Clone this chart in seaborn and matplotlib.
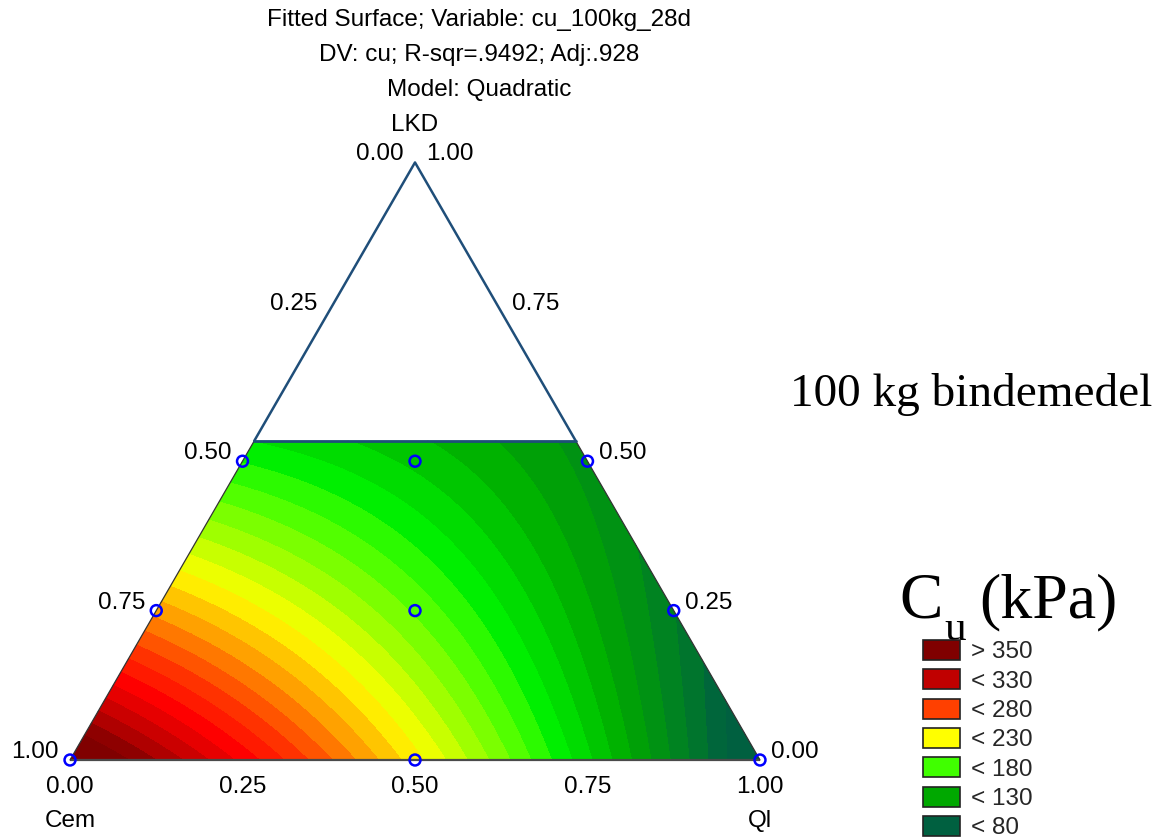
import numpy as np
import matplotlib
matplotlib.use("Agg")
import matplotlib.pyplot as plt
import seaborn as sns
from matplotlib.colors import LinearSegmentedColormap, Normalize
from matplotlib.patches import Polygon, Patch

sns.set_theme(style="white")
plt.rcParams["font.family"] = ["Liberation Sans", "DejaVu Sans"]

# Mixture design: proportions of Cem, LKD and Ql, with measured cu (kPa) after 28 d
cem = [1.0, 0.75, 0.5, 0.5, 0.375, 0.25, 0.0, 0.0, 0.0]
lkd = [0.0, 0.25, 0.5, 0.0, 0.25, 0.5, 0.0, 0.25, 0.5]
ql = [0.0, 0.0, 0.0, 0.5, 0.375, 0.25, 1.0, 0.75, 0.5]
cu = [368, 260, 170, 238, 182, 143, 60, 102, 119]

# colour scale of the fitted surface (legend entries)
legend_labels = ["> 350", "< 330", "< 280", "< 230", "< 180", "< 130", "< 80"]
legend_colors = ["#800000", "#c00000", "#ff4000", "#ffff00", "#40ff00", "#00a800", "#006040"]
legend_values = [350, 330, 280, 230, 180, 130, 80]
# intermediate shades of the continuous scale
extra_values = [305, 165]
extra_colors = ["#ff0000", "#00f000"]
contour_step = 10

tick_values = [0.0, 0.25, 0.5, 0.75, 1.0]
tick_labels = ["0.00", "0.25", "0.50", "0.75", "1.00"]

lkd_max = 0.534  # upper LKD limit of the fitted region

title_lines = ["Fitted Surface; Variable: cu_100kg_28d",
               "DV: cu; R-sqr=.9492; Adj:.928",
               "Model: Quadratic"]

H = np.sqrt(3) / 2


def to_xy(c, l, q):
    c, l, q = np.asarray(c, float), np.asarray(l, float), np.asarray(q, float)
    return q + l / 2, l * H


# Scheffe quadratic mixture model fitted by least squares
C, L, Q = np.array(cem), np.array(lkd), np.array(ql)
A = np.column_stack([C, L, Q, C * L, C * Q, L * Q])
coef, *_ = np.linalg.lstsq(A, np.array(cu, float), rcond=None)


def model(c, l, q):
    return (coef[0] * c + coef[1] * l + coef[2] * q
            + coef[3] * c * l + coef[4] * c * q + coef[5] * l * q)


W, Hpx = 1174, 839
fig = plt.figure(figsize=(W / 100, Hpx / 100), dpi=100)
ax = fig.add_axes([0, 0, 1, 1])
scale = 690.0
ax.set_xlim(-70 / scale, (W - 70) / scale)
ax.set_ylim(-(Hpx - 760) / scale, 760 / scale)
ax.axis("off")

# surface grid
xs = np.linspace(0, 1, 700)
ys = np.linspace(0, lkd_max * H, 400)
X, Y = np.meshgrid(xs, ys)
Lg = Y / H
Qg = X - Lg / 2
Cg = 1 - Qg - Lg
Z = model(Cg, Lg, Qg)

lo, hi = min(legend_values), max(legend_values)
stops = sorted(zip(legend_values + extra_values, legend_colors + extra_colors))
cmap = LinearSegmentedColormap.from_list(
    "cu", [((v - lo) / (hi - lo), col) for v, col in stops])
norm = Normalize(vmin=lo, vmax=hi)
levels = np.arange(30, 420, contour_step)

cf = ax.contourf(X, Y, Z, levels=levels, cmap=cmap, norm=norm)
cf.set_edgecolor("face")
cf.set_linewidth(0.4)

xl, yt = to_xy(1 - lkd_max, lkd_max, 0)
xr, _ = to_xy(0, lkd_max, 1 - lkd_max)
region = Polygon([(0, 0), (1, 0), (xr, yt), (xl, yt)], closed=True,
                 facecolor="none", edgecolor="none")
ax.add_patch(region)
cf.set_clip_path(region)

# triangle outline
ax.plot([0, 1], [0, 0], color="#4a4a4a", lw=1.6, solid_capstyle="butt")
ax.plot([0, xl], [0, yt], color="#333333", lw=0.9)
ax.plot([1, xr], [0, yt], color="#333333", lw=0.9)
ax.plot([xl, 0.5, xr], [yt, H, yt], color="#1f4e79", lw=1.8)
ax.plot([xl, xr], [yt, yt], color="#1f4e79", lw=2.0)

# design points
px, py = to_xy(cem, lkd, ql)
sns.scatterplot(x=px, y=py, ax=ax, marker="o", s=62, color="#0000ff",
                linewidth=1.8, legend=False, clip_on=False, zorder=5)
ax.collections[-1].set_facecolor("none")
ax.collections[-1].set_edgecolor("#0000ff")

fs = 17.5
pt = 0.72  # points per pixel
for v, lab in zip(tick_values, tick_labels):
    # Cem scale, left side
    x, y = to_xy(v, 1 - v, 0)
    ax.annotate(lab, (x, y), xytext=(-11 * pt, 8 * pt), textcoords="offset points",
                ha="right", va="center", fontsize=fs, color="black")
    # LKD scale, right side
    x, y = to_xy(0, v, 1 - v)
    ax.annotate(lab, (x, y), xytext=(11 * pt, 8 * pt), textcoords="offset points",
                ha="left", va="center", fontsize=fs, color="black")
    # Ql scale, bottom
    x, y = to_xy(1 - v, 0, v)
    ax.annotate(lab, (x, y), xytext=(0, -27 * pt), textcoords="offset points",
                ha="center", va="center", fontsize=fs, color="black")

ax.annotate("Cem", (0, 0), xytext=(0, -61 * pt), textcoords="offset points",
            ha="center", va="center", fontsize=fs, color="black")
ax.annotate("Ql", (1, 0), xytext=(0, -61 * pt), textcoords="offset points",
            ha="center", va="center", fontsize=fs, color="black")
ax.annotate("LKD", (0.5, H), xytext=(0, 37 * pt), textcoords="offset points",
            ha="center", va="center", fontsize=fs, color="black")

for i, line in enumerate(title_lines):
    fig.text(479 / W, 1 - (20 + 35 * i) / Hpx, line, ha="center", va="center",
             fontsize=fs, color="black")

serif = ["Liberation Serif", "DejaVu Serif"]
fig.text(790 / W, 1 - 395 / Hpx, "100 kg bindemedel", ha="left", va="center",
         fontsize=34, family=serif, color="black")
fig.text(899 / W, 1 - 617 / Hpx, "C", ha="left", va="baseline",
         fontsize=47, family=serif, color="black")
fig.text(944 / W, 1 - 640 / Hpx, "u", ha="left", va="baseline",
         fontsize=31, family=serif, color="black")
fig.text(979 / W, 1 - 617 / Hpx, "(kPa)", ha="left", va="baseline",
         fontsize=46, family=serif, color="black")

handles = [Patch(facecolor=c, edgecolor="#222222", linewidth=1.2) for c in legend_colors]
fig.legend(handles, legend_labels, loc="upper left",
           bbox_to_anchor=(923 / W, 1 - 640 / Hpx), frameon=False,
           fontsize=fs, handlelength=1.52, handleheight=0.9,
           handletextpad=0.45, labelspacing=0.24, borderpad=0, borderaxespad=0)

fig.savefig("out.png", dpi=100)
